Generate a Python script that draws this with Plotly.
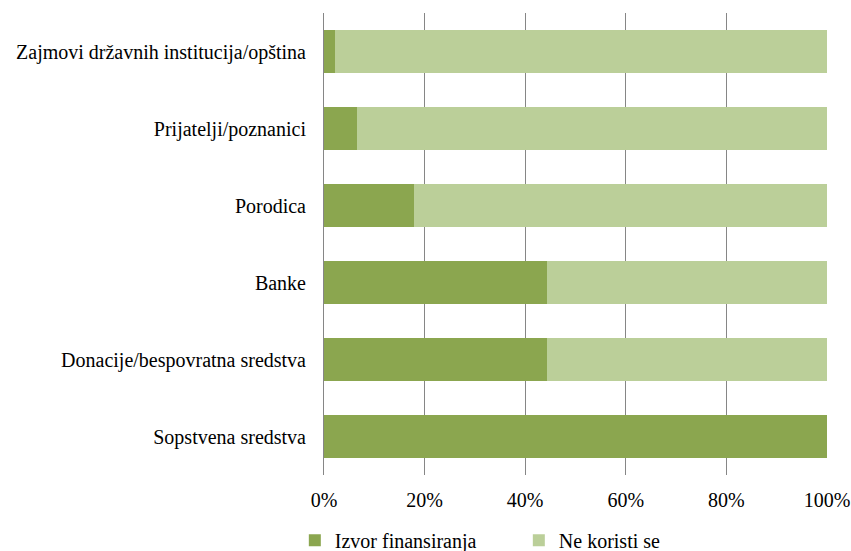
import plotly.graph_objects as go

categories = ["Sopstvena sredstva", "Donacije/bespovratna sredstva", "Banke",
              "Porodica", "Prijatelji/poznanici", "Zajmovi državnih institucija/opština"]
izvor = [100.0, 44.4, 44.4, 17.8, 6.6, 2.2]
ne_koristi = [0.0, 55.6, 55.6, 82.2, 93.4, 97.8]
x_ticks = [0, 20, 40, 60, 80, 100]
x_tick_labels = ["0%", "20%", "40%", "60%", "80%", "100%"]

FONT = "Liberation Serif"

fig = go.Figure()
fig.add_trace(go.Bar(y=categories, x=izvor, orientation="h", name="Izvor finansiranja",
                     marker=dict(color="#8BA64F", line=dict(width=0))))
fig.add_trace(go.Bar(y=categories, x=ne_koristi, orientation="h", name="Ne koristi se",
                     marker=dict(color="#BBCF99", line=dict(width=0))))

fig.update_layout(
    width=851, height=551,
    margin=dict(l=324, r=24, t=13, b=76, autoexpand=False),
    barmode="stack", bargap=0.44,
    paper_bgcolor="white", plot_bgcolor="white",
    font=dict(family=FONT, size=20, color="black"),
    xaxis=dict(range=[0, 100], tickvals=x_ticks, ticktext=x_tick_labels,
               showgrid=True, gridcolor="#868686", gridwidth=1,
               zeroline=False, showline=False, ticks="", ticklabelstandoff=11,
               automargin=False),
    yaxis=dict(showgrid=False, showline=True, linecolor="#868686", linewidth=1,
               ticks="", ticklabelstandoff=13, categoryorder="array",
               categoryarray=categories, automargin=False),
    legend=dict(orientation="h", x=-0.058, xanchor="left", y=-0.141, yanchor="middle",
                font=dict(family=FONT, size=20), entrywidth=179, entrywidthmode="pixels",
                itemwidth=30, traceorder="normal"),
    showlegend=True,
)
fig.write_html("out.html", config={"displayModeBar": False},
               post_script="document.body.style.margin='0';")
